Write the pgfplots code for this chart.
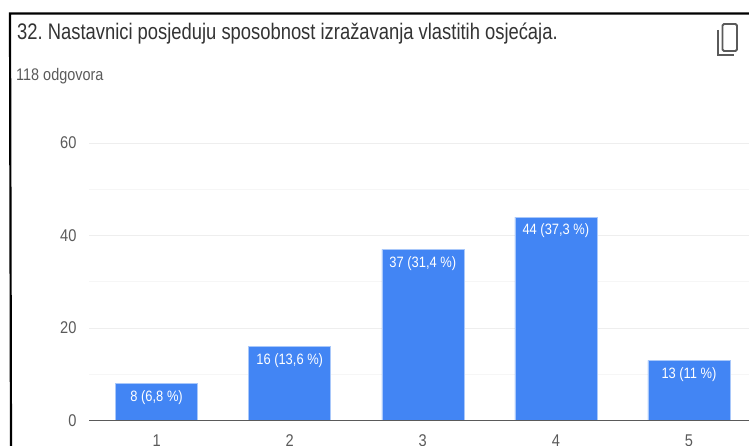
\documentclass[border=0pt]{standalone}
\usepackage{fontspec}
\setmainfont[FakeStretch=0.86]{Liberation Sans}
\newfontfamily\titlefont[FakeStretch=0.817]{Liberation Sans}
\usepackage{pgfplots}
\pgfplotsset{compat=1.18}
\definecolor{barblue}{HTML}{4285F4}
\definecolor{barline}{HTML}{A9C8FA}
\definecolor{tick}{HTML}{5A5A5A}
\definecolor{gridc}{HTML}{EEEEEE}
\definecolor{gridm}{HTML}{F6F6F6}
\frenchspacing
\begin{document}
\begin{tikzpicture}[x=1pt,y=1pt]
\path[use as bounding box] (0,0) rectangle (749,445);
\begin{axis}[
  at={(89pt,24.5pt)}, anchor=south west,
  scale only axis, width=660pt, height=277.5pt,
  xmin=0.492, xmax=5.451, ymin=0, ymax=60,
  xtick={1,2,3,4,5}, ytick={0,20,40,60},
  minor ytick={10,30,50},
  ymajorgrids, yminorgrids,
  major grid style={gridc,line width=1pt},
  minor grid style={gridm,line width=1pt},
  axis line style={draw=none},
  axis x line*=bottom, axis y line*=left,
  major tick length=0pt, minor tick length=0pt,
  tick style={draw=none},
  /pgf/number format/assume math mode=true,
  tick label style={font=\fontsize{17}{17}\selectfont, text=tick},
  xticklabel style={yshift=-11pt},
  yticklabel style={xshift=-9pt},
  axis on top=false,
  clip=false,
  point meta=explicit symbolic,
  nodes near coords,
  every node near coord/.style={anchor=north, yshift=-3.5pt, text=white, font=\fontsize{15}{15}\selectfont},
]
\addplot[ybar, bar width=82pt, fill=barblue, draw=barline, line width=0.5pt]
  coordinates {
    (1,8)  [8 (6,8 \%)]
    (2,16) [16 (13,6 \%)]
    (3,37) [37 (31,4 \%)]
    (4,44) [44 (37,3 \%)]
    (5,13) [13 (11 \%)]
  };
\draw[color=tick, line width=1.5pt] (axis cs:0.492,0) -- (axis cs:5.451,0);
\end{axis}
% frame
\draw[black, line width=2.2pt] (749,431.5) -- (10,431.5) -- (11,-2);
% title
\node[anchor=base west, inner sep=0pt, font=\titlefont\fontsize{22.5}{22.5}\selectfont, text=black!80] at (17,405) {32. Nastavnici posjeduju sposobnost izražavanja vlastitih osjećaja.};
\node[anchor=base west, inner sep=0pt, font=\fontsize{16.8}{16.8}\selectfont, text=tick] at (16,364) {118 odgovora};
% copy icon
\draw[tick, line width=1.8pt, rounded corners=1.5pt] (722.5,421) rectangle (737,394);
\draw[tick, line width=1.8pt] (718,415) -- (718,390) -- (734,390);
\end{tikzpicture}
\end{document}
